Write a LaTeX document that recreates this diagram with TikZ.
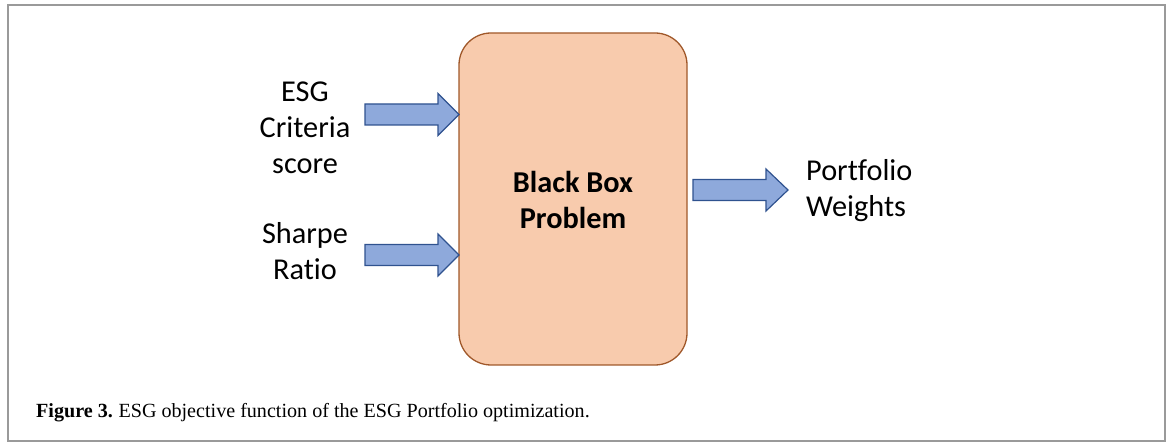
\documentclass[tikz,border=0pt]{standalone}
\usepackage{fontspec}
\setmainfont[Ligatures=NoCommon]{Carlito}
\newfontfamily\capfont{Liberation Serif}
\definecolor{boxfill}{HTML}{F8CBAD}
\definecolor{boxedge}{HTML}{A0582A}
\definecolor{arrfill}{HTML}{8EA9DB}
\definecolor{arredge}{HTML}{2F528F}
\definecolor{frame}{HTML}{9A9A9A}
\tikzset{
  label text/.style={align=center, font=\fontsize{30.3}{36}\selectfont, inner sep=0pt},
  blockarrow/.style={fill=arrfill, draw=arredge, line width=1.2pt, line join=miter},
}
% block arrow: tail x, tip x, centre y, head start x
\newcommand\blockarr[4]{%
  \draw[blockarrow] (#1,#3-10.5) -- (#4,#3-10.5) -- (#4,#3-21) -- (#2,#3)
    -- (#4,#3+21) -- (#4,#3+10.5) -- (#1,#3+10.5) -- cycle;}
\begin{document}
\begin{tikzpicture}[x=1pt,y=-1pt]
  \useasboundingbox (0,0) rectangle (1171,443);
  \draw[frame, line width=1.5pt] (8,5) rectangle (1165,441);

  \node[draw=boxedge, fill=boxfill, line width=1.3pt, rounded corners=32pt,
        minimum width=228pt, minimum height=332pt, inner sep=0pt]
        (box) at (573,199) {};
  \node[label text, font=\fontsize{30.3}{36}\selectfont\bfseries] (bbtext) at (573,200) {Black Box\\Problem};

  \node[label text] (esg) at (305,128) {ESG\\Criteria\\score};
  \node[label text] (sharpe) at (305,251) {Sharpe\\Ratio};
  \node[label text, align=left, anchor=west] (pw) at (806,191) {Portfolio\\Weights};

  \blockarr{365}{459}{114.5}{438}
  \blockarr{365}{459}{255}{438}
  \blockarr{693}{788}{190}{766}

  \node[anchor=base west, inner sep=0pt, font=\capfont\fontsize{20.1}{22}\selectfont] (cap) at (36,418)
    {\textbf{Figure 3.}\hspace{-1pt} ESG objective function of the ESG Portfolio optimization.};
\end{tikzpicture}
\end{document}
